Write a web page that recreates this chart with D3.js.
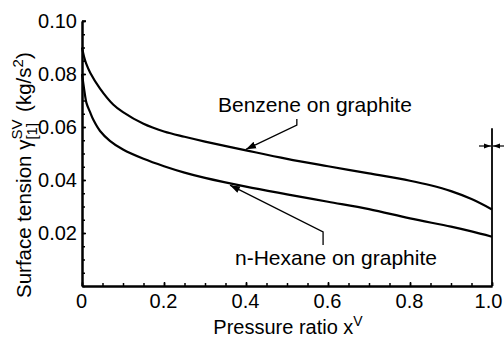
<!DOCTYPE html>
<html><head><meta charset="utf-8">
<script src="https://cdn.jsdelivr.net/npm/d3@7"></script>
<style>
body{margin:0;background:#fff;}
text{font-family:"Liberation Sans",Arial,Helvetica,sans-serif;fill:#000;}
</style></head>
<body>
<svg id="c" width="504" height="341"></svg>
<script>
// Data
const benzeneX = [0, 0.005, 0.01, 0.02, 0.044, 0.076, 0.1, 0.15, 0.2, 0.25, 0.3, 0.4, 0.5, 0.6, 0.7, 0.8, 0.85, 0.9, 0.95, 1.0];
const benzeneY = [0.0900, 0.0865, 0.0840, 0.0805, 0.0745, 0.0685, 0.0656, 0.0612, 0.0583, 0.0563, 0.0545, 0.0512, 0.0480, 0.0452, 0.0425, 0.0397, 0.0380, 0.0358, 0.0328, 0.0289];
const hexaneX = [0, 0.005, 0.011, 0.02, 0.028, 0.044, 0.068, 0.1, 0.15, 0.2, 0.25, 0.3, 0.4, 0.5, 0.6, 0.7, 0.8, 0.9, 0.95, 1.0];
const hexaneY = [0.0800, 0.0745, 0.0690, 0.0655, 0.0626, 0.0585, 0.0548, 0.0515, 0.0480, 0.0452, 0.0428, 0.0408, 0.0375, 0.0346, 0.0318, 0.0290, 0.0255, 0.0224, 0.0206, 0.0186];
const xTicks = [0, 0.2, 0.4, 0.6, 0.8, 1.0];
const xTickLabels = ["0", "0.2", "0.4", "0.6", "0.8", "1.0"];
const yTicks = [0.02, 0.04, 0.06, 0.08, 0.10];
const yTickLabels = ["0.02", "0.04", "0.06", "0.08", "0.10"];
const benzeneLabel = "Benzene on graphite";
const hexaneLabel = "n-Hexane on graphite";

const svg = d3.select("#c");
const x = d3.scaleLinear().domain([0, 1]).range([82, 492]);
const y = d3.scaleLinear().domain([0, 0.1]).range([286, 21]);

const FS = 20;

// minor ticks
const xMinor = d3.range(0, 1.0001, 0.05);
const yMinor = d3.range(0, 0.1001, 0.005);

const gx = svg.append("g").attr("transform", `translate(0,${y(0)})`);
gx.call(d3.axisBottom(x).tickValues(xMinor).tickSize(-3).tickSizeOuter(0).tickFormat(""));
gx.append("g").call(d3.axisBottom(x).tickValues(xTicks).tickSize(-4).tickSizeOuter(0)
  .tickPadding(8).tickFormat((d,i)=>xTickLabels[i]));
gx.selectAll("path.domain").attr("stroke-width", 2);
gx.selectAll("line").attr("stroke-width", 1.5);
gx.selectAll("text").style("font-size", FS + "px").style("font-family", null)
  .attr("dx", (d) => d === 1 ? -4 : -1);

const gy = svg.append("g").attr("transform", `translate(${x(0)},0)`);
gy.call(d3.axisLeft(y).tickValues(yMinor).tickSize(-3).tickSizeOuter(0).tickFormat(""));
gy.append("g").call(d3.axisLeft(y).tickValues(yTicks).tickSize(-4).tickSizeOuter(0)
  .tickPadding(5).tickFormat((d,i)=>yTickLabels[i]));
gy.selectAll("path.domain").attr("stroke-width", 2);
gy.selectAll("line").attr("stroke-width", 1.5);
gy.selectAll("text").style("font-size", FS + "px").style("font-family", null);
// top cap tick at 0.10
gy.append("line").attr("x1", 0).attr("x2", 4).attr("y1", y(0.1)).attr("y2", y(0.1)).attr("stroke", "#000").attr("stroke-width", 1.5);

// curves
const line = d3.line().x(d => x(d[0])).y(d => y(d[1])).curve(d3.curveCatmullRom.alpha(0.5));
const bz = benzeneX.map((v, i) => [v, benzeneY[i]]);
const hx = hexaneX.map((v, i) => [v, hexaneY[i]]);
svg.append("path").attr("d", line(bz)).attr("fill", "none").attr("stroke", "#000").attr("stroke-width", 2.2);
svg.append("path").attr("d", line(hx)).attr("fill", "none").attr("stroke", "#000").attr("stroke-width", 2.2);

// vertical line at x = 1.0
svg.append("line").attr("x1", x(1)).attr("x2", x(1)).attr("y1", y(0.0595)).attr("y2", y(0))
  .attr("stroke", "#000").attr("stroke-width", 1.8);

// arrowhead marker
const defs = svg.append("defs");
defs.append("marker").attr("id", "ah").attr("viewBox", "0 0 10 10").attr("refX", 10).attr("refY", 5)
  .attr("markerWidth", 10).attr("markerHeight", 10).attr("markerUnits", "userSpaceOnUse")
  .attr("orient", "auto").append("path").attr("d", "M0,1.5 L10,5 L0,8.5 Z").attr("fill", "#000");
defs.append("marker").attr("id", "ahs").attr("viewBox", "0 0 10 10").attr("refX", 10).attr("refY", 5)
  .attr("markerWidth", 7).attr("markerHeight", 7).attr("markerUnits", "userSpaceOnUse")
  .attr("orient", "auto").append("path").attr("d", "M0,1.5 L10,5 L0,8.5 Z").attr("fill", "#000");

// annotation: benzene
svg.append("text").attr("x", 218).attr("y", 112).style("font-size", "21px").text(benzeneLabel);
svg.append("path").attr("d", `M${x(0.524)},119 L${x(0.524)},125 L${x(0.400)},${y(0.0512) - 1}`)
  .attr("fill", "none").attr("stroke", "#000").attr("stroke-width", 1.3).attr("marker-end", "url(#ah)");
// annotation: hexane
svg.append("text").attr("x", 235).attr("y", 265).style("font-size", "21px").text(hexaneLabel);
svg.append("path").attr("d", `M${x(0.588)},245 L${x(0.588)},232 L${x(0.361)},${y(0.0388) + 2}`)
  .attr("fill", "none").attr("stroke", "#000").attr("stroke-width", 1.3).attr("marker-end", "url(#ah)");

// small arrows at the vertical line
const ya = 146;
svg.append("line").attr("x1", x(1) - 13).attr("x2", x(1) - 1).attr("y1", ya).attr("y2", ya)
  .attr("stroke", "#000").attr("stroke-width", 1.2).attr("marker-end", "url(#ahs)");
svg.append("line").attr("x1", 504).attr("x2", x(1) + 1).attr("y1", ya).attr("y2", ya)
  .attr("stroke", "#000").attr("stroke-width", 1.2).attr("marker-end", "url(#ahs)");

// x axis label
const xl = svg.append("text").attr("x", 288).attr("y", 334).attr("text-anchor", "middle").style("font-size", FS + "px");
xl.append("tspan").text("Pressure ratio x");
xl.append("tspan").attr("dy", -8).style("font-size", "14px").text("V");

// y axis label
const yl = svg.append("text").attr("transform", "translate(31,298) rotate(-90)").style("font-size", "20.5px");
yl.append("tspan").text("Surface tension \u03B3");
const sup = yl.append("tspan").attr("dy", -9).style("font-size", "15px").text("SV");
const supW = sup.node().getComputedTextLength();
const sub = yl.append("tspan").attr("dx", -supW).attr("dy", 15).style("font-size", "15px").text("[1]");
const subW = sub.node().getComputedTextLength();
yl.append("tspan").attr("dx", Math.max(0, supW - subW) + 2).attr("dy", -6).text(" (kg/s");
yl.append("tspan").attr("dy", -8).style("font-size", "15px").text("2");
yl.append("tspan").attr("dy", 8).text(")");
</script>
</body></html>
